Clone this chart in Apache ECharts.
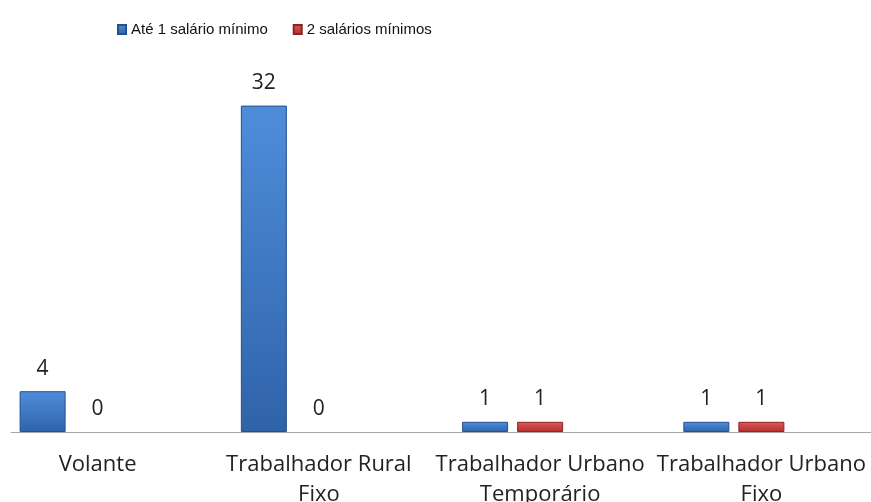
<!DOCTYPE html>
<html>
<head>
<meta charset="utf-8">
<script src="https://cdn.jsdelivr.net/npm/echarts@6/dist/echarts.min.js"></script>
<style>
  html, body { margin: 0; padding: 0; background: #fff; }
  #chart { width: 871px; height: 502px; }
</style>
</head>
<body>
<div id="chart"></div>
<script>
// dados do grafico
const categories = ['Volante', 'Trabalhador Rural\nFixo', 'Trabalhador Urbano\nTemporário', 'Trabalhador Urbano\nFixo']
const ate1Salario = [4, 32, 1, 1]
const doisSalarios = [0, 0, 1, 1]
const legendNames = ['Até 1 salário mínimo', '2 salários mínimos']

const grad = (top, bottom) => new echarts.graphic.LinearGradient(0, 0, 0, 1, [
  { offset: 0, color: top },
  { offset: 1, color: bottom }
])

// barras com valor 0 nao mostram borda
const toData = (arr) => arr.map(v => v === 0 ? { value: 0, itemStyle: { borderWidth: 0 } } : v)

const labelStyle = {
  show: true,
  position: 'top',
  distance: 12,
  fontFamily: 'Open Sans',
  fontSize: 21,
  color: '#222'
}

const chart = echarts.init(document.getElementById('chart'))
chart.setOption({
  animation: false,
  legend: {
    left: 112,
    top: 17,
    icon: 'rect',
    itemWidth: 8,
    itemHeight: 9,
    itemGap: 25,
    textStyle: { fontFamily: 'Liberation Sans', fontSize: 15, color: '#111' },
    data: legendNames
  },
  grid: [
    // area das categorias passa um pouco da borda, como no original do Excel
    { left: -13, width: 885, top: 24, bottom: 70, outerBoundsMode: 'none' },
    { left: 11, right: 0, top: 24, bottom: 70, outerBoundsMode: 'none' }
  ],
  xAxis: [
    {
      type: 'category',
      gridIndex: 0,
      data: categories,
      axisLine: { show: false },
      axisTick: { show: false },
      axisLabel: {
        interval: 0,
        margin: 18,
        fontFamily: 'Open Sans',
        fontSize: 22,
        lineHeight: 30,
        color: '#222'
      }
    },
    {
      type: 'category',
      gridIndex: 1,
      data: categories,
      axisLine: { lineStyle: { color: '#a6a6a6', width: 1 } },
      axisTick: { show: false },
      axisLabel: { show: false }
    }
  ],
  yAxis: [
    { type: 'value', gridIndex: 0, min: 0, max: 40, show: false, splitLine: { show: false } },
    { type: 'value', gridIndex: 1, min: 0, max: 40, show: false, splitLine: { show: false } }
  ],
  series: [
    {
      name: legendNames[0],
      type: 'bar',
      xAxisIndex: 0,
      yAxisIndex: 0,
      barWidth: 46,
      barGap: '19.6%',
      data: toData(ate1Salario),
      label: labelStyle,
      itemStyle: {
        color: grad('#4f8ddb', '#2f63a9'),
        borderColor: '#24508c',
        borderWidth: 1
      }
    },
    {
      name: legendNames[1],
      type: 'bar',
      xAxisIndex: 0,
      yAxisIndex: 0,
      barWidth: 46,
      barGap: '19.6%',
      data: toData(doisSalarios),
      label: labelStyle,
      itemStyle: {
        color: grad('#e0585a', '#b32e2e'),
        borderColor: '#8c2424',
        borderWidth: 1
      }
    },
    {
      // serie vazia (terceira posicao reservada no Excel)
      name: 'vazio',
      type: 'bar',
      xAxisIndex: 0,
      yAxisIndex: 0,
      barWidth: 46,
      barGap: '19.6%',
      data: categories.map(() => null),
      itemStyle: { color: 'transparent' }
    }
  ]
})
</script>
</body>
</html>
